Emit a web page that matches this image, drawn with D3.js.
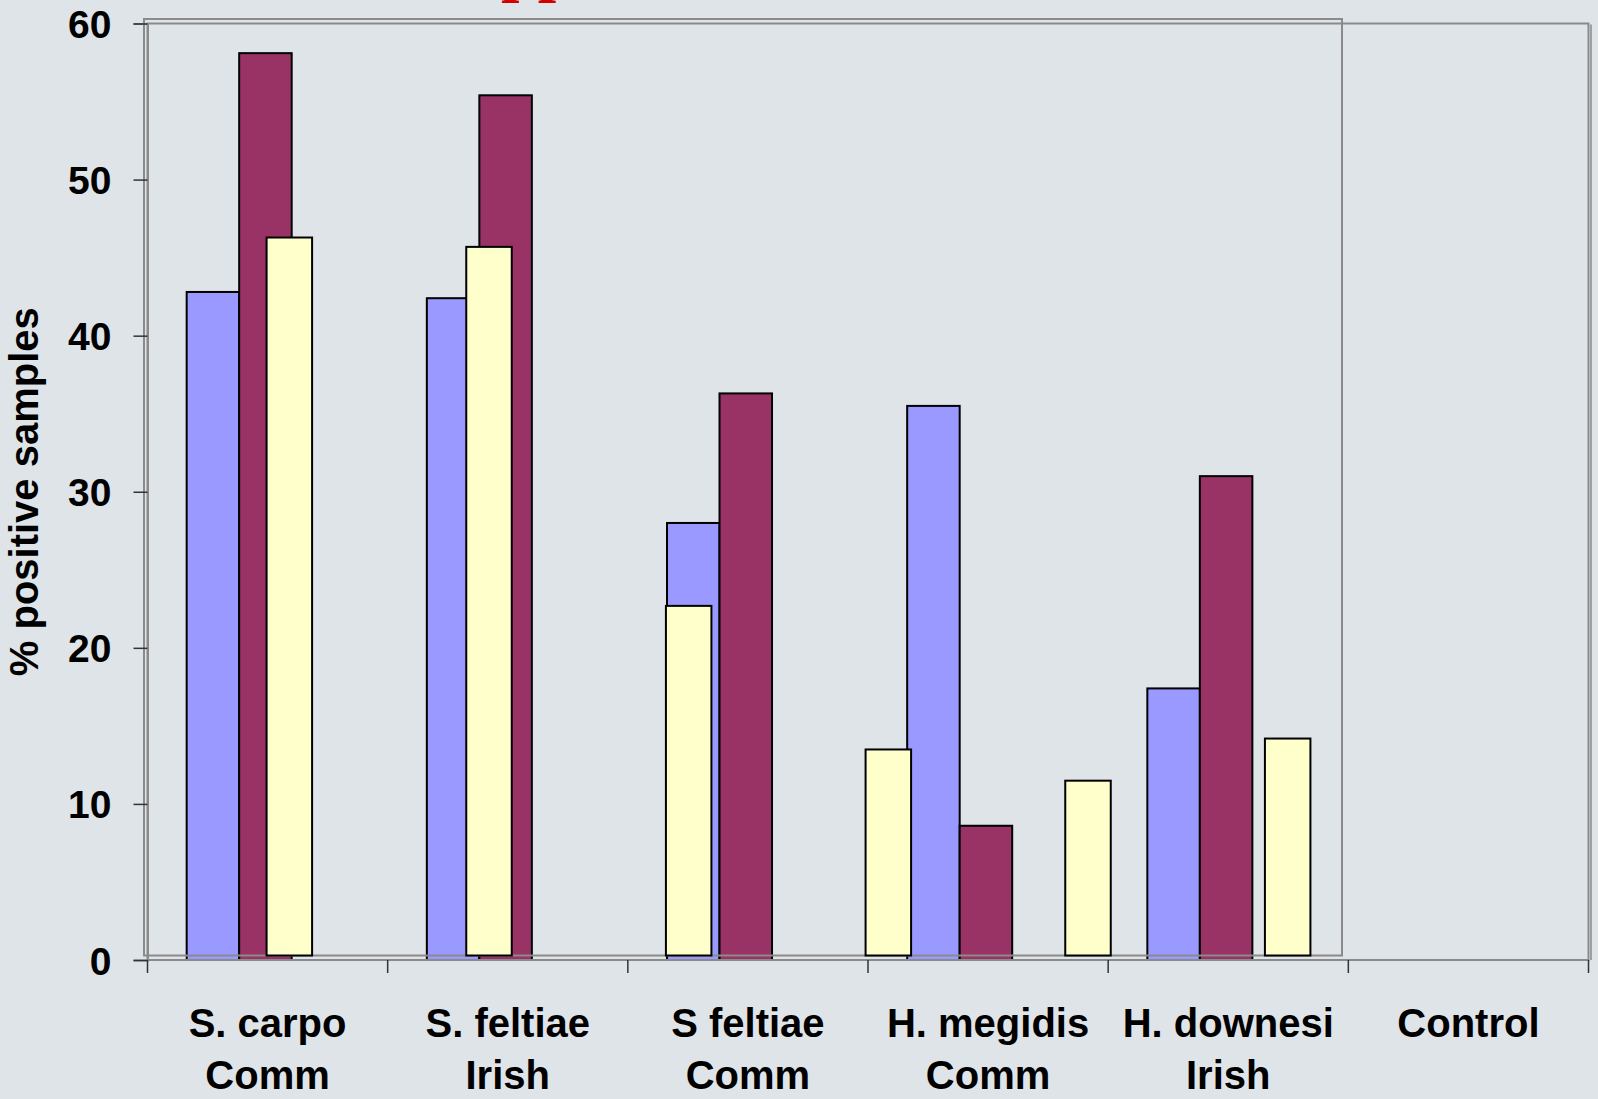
<!DOCTYPE html>
<html>
<head>
<meta charset="utf-8">
<script src="https://cdn.jsdelivr.net/npm/d3@7/dist/d3.min.js"></script>
<style>
  html, body { margin: 0; padding: 0; background: #dfe4e8; overflow: hidden; }
  svg { display: block; }
</style>
</head>
<body>
<svg id="chart" width="1598" height="1099"></svg>
<script>
// ---- data ----
const categories = ["S. carpo|Comm", "S. feltiae|Irish", "S feltiae|Comm", "H. megidis|Comm", "H. downesi|Irish", "Control"];
const blueValues   = [42.8, 42.4, 28.0, 35.5, 17.4, 0];
const maroonValues = [58.1, 55.4, 36.3, 8.6, 31.0, 0];
const yellowValues = [46.0, 45.4, 22.4, 13.2, 11.2, 13.9];
const yTicks = [0, 10, 20, 30, 40, 50, 60];
const yTitle = "% positive samples";
const seriesSlots = ["s1", "s2", "s3"];

// ---- styles ----
const BG = "#dfe4e8";
const FRAME = "#8a8a8a";
const COLORS = { s1: "#9999ff", s2: "#993366", s3: "#ffffcc" };

const svg = d3.select("#chart");
svg.append("rect").attr("width", 1598).attr("height", 1099).attr("fill", BG);

// partially visible title (cut off at the top edge, as in the reference)
svg.append("text")
  .attr("x", 501).attr("y", -10.8)
  .attr("font-family", "Liberation Serif, Times New Roman, serif")
  .attr("font-weight", "bold").attr("font-size", 66)
  .attr("fill", "#d40000")
  .text("pp");

// ---- main chart scales ----
const xMain = d3.scaleBand().domain(categories).range([147.5, 1588.5]).paddingInner(0).paddingOuter(0);
const xMainS = d3.scaleBand().domain(seriesSlots).range([0, xMain.bandwidth()])
  .paddingInner(0).paddingOuter(0.787).align(0.474);
const yMain = d3.scaleLinear().domain([0, 60]).range([960, 23.5]);

// ---- overlay chart scales (third series) ----
const xOver = d3.scaleBand().domain(categories).range([144, 1342]).paddingInner(0).paddingOuter(0);
const xOverS = d3.scaleBand().domain(seriesSlots).range([0, xOver.bandwidth()])
  .paddingInner(0).paddingOuter(0.694);
const yOver = d3.scaleLinear().domain([0, 60]).range([955.5, 19]);

// main plot frame
svg.append("rect")
  .attr("x", xMain.range()[0]).attr("y", yMain(60))
  .attr("width", xMain.range()[1] - xMain.range()[0])
  .attr("height", yMain(0) - yMain(60))
  .attr("fill", "none").attr("stroke", FRAME).attr("stroke-width", 2);
svg.append("line")
  .attr("x1", xMain.range()[1] + 2.5).attr("x2", xMain.range()[1] + 2.5)
  .attr("y1", yMain(60) + 1).attr("y2", yMain(0))
  .attr("stroke", FRAME).attr("stroke-width", 1.5);

// main bars
const mainSeries = [
  { key: "s1", values: blueValues },
  { key: "s2", values: maroonValues }
];
mainSeries.forEach(s => {
  svg.append("g").selectAll("rect")
    .data(categories.map((c, i) => ({ c, v: s.values[i] })).filter(d => d.v > 0))
    .join("rect")
    .attr("x", d => xMain(d.c) + xMainS(s.key))
    .attr("y", d => yMain(d.v))
    .attr("width", xMainS.bandwidth())
    .attr("height", d => yMain(0) - yMain(d.v))
    .attr("fill", COLORS[s.key])
    .attr("stroke", "#000").attr("stroke-width", 2);
});

// overlay frame
svg.append("rect")
  .attr("x", xOver.range()[0]).attr("y", yOver(60))
  .attr("width", xOver.range()[1] - xOver.range()[0])
  .attr("height", yOver(0) - yOver(60))
  .attr("fill", "none").attr("stroke", FRAME).attr("stroke-width", 2);

// overlay bars (yellow, third slot)
svg.append("g").selectAll("rect")
  .data(categories.map((c, i) => ({ c, v: yellowValues[i] })).filter(d => d.v > 0))
  .join("rect")
  .attr("x", d => xOver(d.c) + xOverS("s3"))
  .attr("y", d => yOver(d.v))
  .attr("width", xOverS.bandwidth())
  .attr("height", d => yOver(0) - yOver(d.v))
  .attr("fill", COLORS.s3)
  .attr("stroke", "#000").attr("stroke-width", 2);

// ---- y axis ----
const yAxis = d3.axisLeft(yMain).tickValues(yTicks).tickSize(14).tickPadding(22).tickFormat(d3.format("d"));
const gy = svg.append("g").attr("transform", `translate(${xMain.range()[0]},0)`).call(yAxis);
gy.select(".domain").attr("stroke", FRAME).attr("stroke-width", 2);
gy.selectAll(".tick line").attr("stroke", "#333").attr("stroke-width", 1.5);
gy.selectAll(".tick text")
  .attr("font-family", "Liberation Sans, Arial, sans-serif")
  .attr("font-weight", "bold").attr("font-size", 39).attr("fill", "#000")
  .attr("dy", "0.36em");

// y title
svg.append("text")
  .attr("transform", "translate(37.5,491.7) rotate(-90)")
  .attr("text-anchor", "middle")
  .attr("font-family", "Liberation Sans, Arial, sans-serif")
  .attr("font-weight", "bold").attr("font-size", 40).attr("fill", "#000")
  .text(yTitle);

// ---- x axis ----
const gx = svg.append("g");
gx.append("line")
  .attr("x1", xMain.range()[0]).attr("x2", xMain.range()[1])
  .attr("y1", yMain(0)).attr("y2", yMain(0))
  .attr("stroke", FRAME).attr("stroke-width", 2);
const boundaries = categories.map(c => xMain(c)).concat([xMain.range()[1]]);
gx.selectAll("line.tick").data(boundaries).join("line")
  .attr("class", "tick")
  .attr("x1", d => d).attr("x2", d => d)
  .attr("y1", yMain(0)).attr("y2", yMain(0) + 13)
  .attr("stroke", "#333").attr("stroke-width", 1.5);

const labels = gx.selectAll("text.cat").data(categories).join("text")
  .attr("class", "cat")
  .attr("text-anchor", "middle")
  .attr("font-family", "Liberation Sans, Arial, sans-serif")
  .attr("font-weight", "bold").attr("font-size", 40).attr("fill", "#000");
labels.each(function(d) {
  const lines = d.split("|");
  const cx = xMain(d) + xMain.bandwidth() / 2;
  d3.select(this).selectAll("tspan").data(lines).join("tspan")
    .attr("x", cx)
    .attr("y", (l, i) => 1037 + i * 52)
    .text(l => l);
});
</script>
</body>
</html>
